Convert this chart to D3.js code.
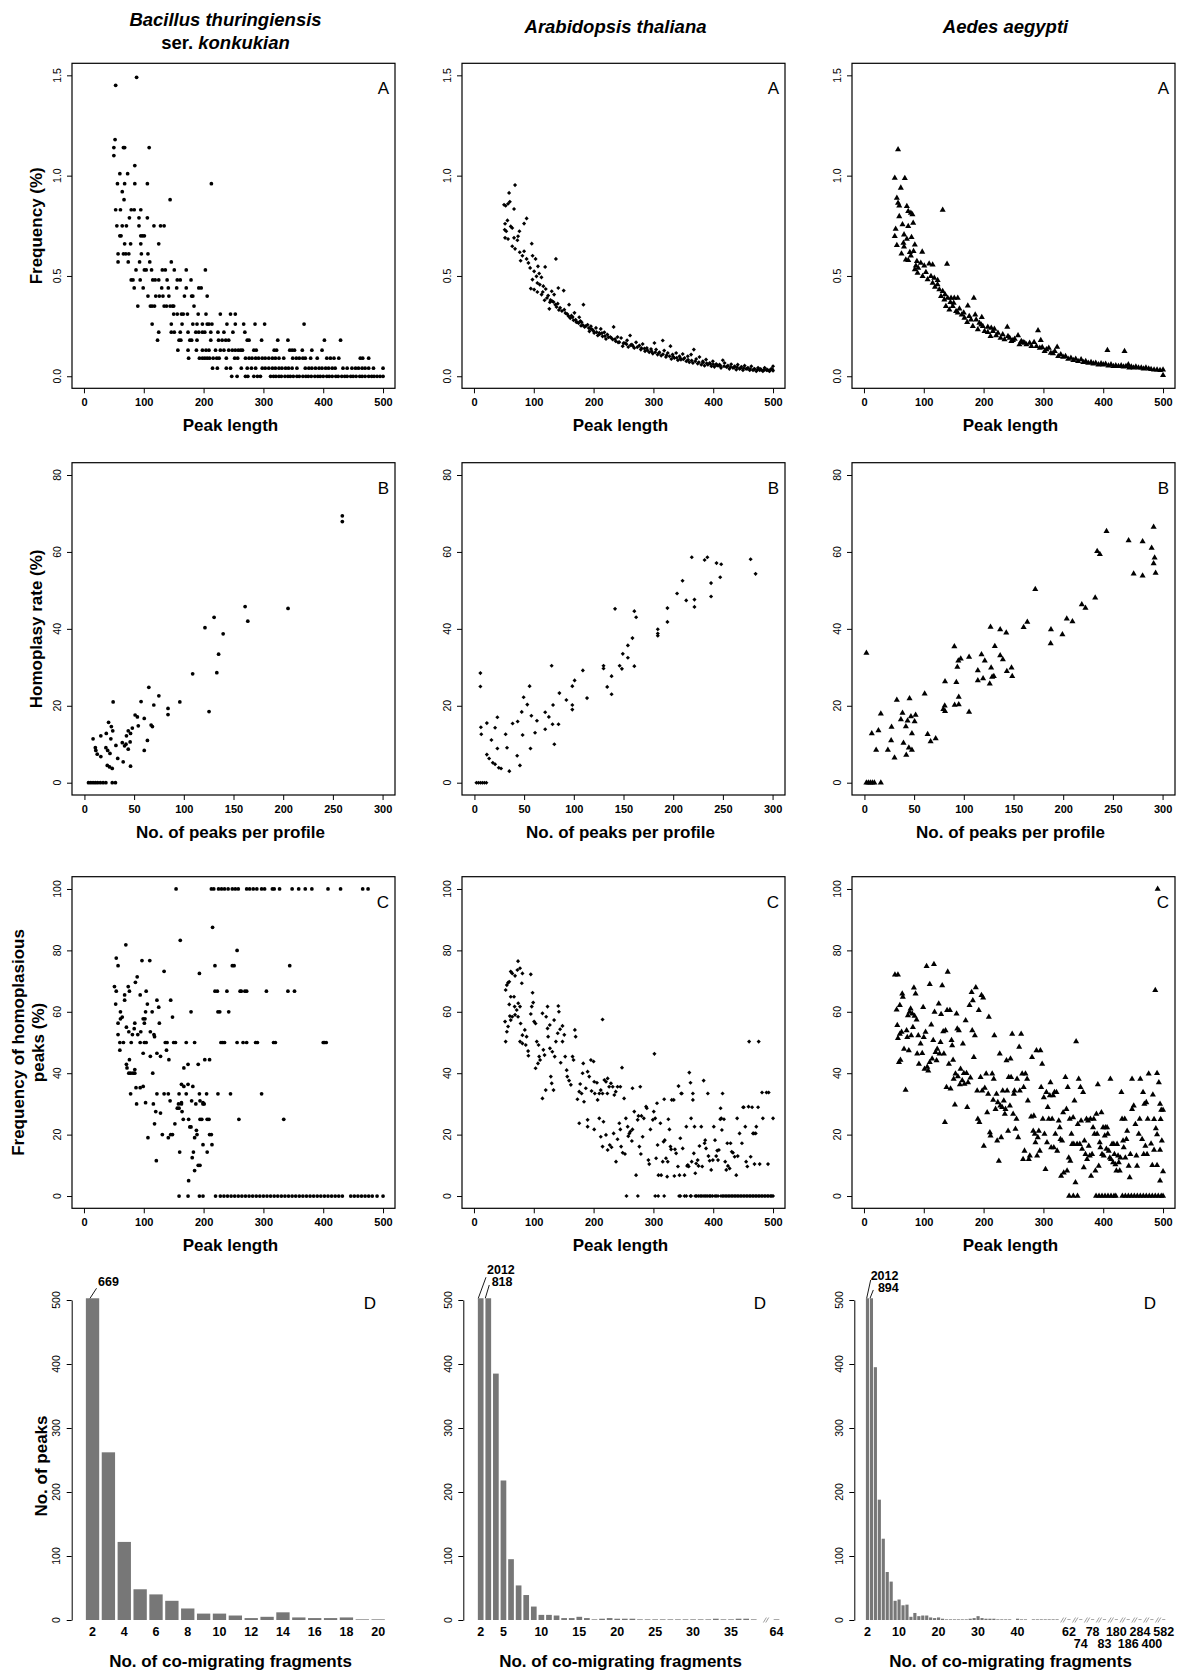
<!DOCTYPE html>
<html>
<head>
<meta charset="utf-8">
<title>Peak length, homoplasy and co-migration</title>
<script src="https://d3js.org/d3.v7.min.js"></script>
<style>
  body { margin: 0; background: #fff; }
  svg text { font-family: "Liberation Sans", Arial, sans-serif; fill: #000; }
</style>
</head>
<body>
<svg id="fig" width="1200" height="1675"></svg>
<script>
// ---------- data ----------
const lengthTicks = [0, 100, 200, 300, 400, 500];
const peakTicks = [0, 50, 100, 150, 200, 250, 300];
const freqTicks = [0, 0.5, 1.0, 1.5];
const rateTicks = [0, 20, 40, 60, 80];
const homoTicks = [0, 20, 40, 60, 80, 100];
const countTicks = [0, 100, 200, 300, 400, 500];

// A: peak length vs frequency (%) - B. thuringiensis, grouped by (quantised) frequency level
const btFreqRows = [
  [1.49, [88]], [1.45, [53]], [1.18, [52]], [1.14, [50, 66, 68, 109]], [1.10, [50]], [1.05, [85]],
  [1.01, [60, 73]], [0.96, [56, 68, 85, 106, 213]], [0.92, [64]], [0.88, [67, 144]],
  [0.83, [53, 61, 79, 84, 95]], [0.79, [76, 92, 106]], [0.75, [55, 64, 71, 92, 117, 128, 134]],
  [0.70, [60, 62, 95, 98, 101]], [0.66, [68, 78, 95, 125]], [0.61, [57, 66, 70, 75, 96, 107]],
  [0.57, [57, 74, 93, 110, 146]], [0.53, [87, 101, 104, 113, 131, 136, 151, 171, 203]],
  [0.48, [79, 82, 94, 115, 119, 125, 139, 156, 161, 179]],
  [0.44, [84, 99, 130, 141, 155, 171, 192, 196]],
  [0.40, [107, 120, 126, 132, 142, 168, 180, 182, 206]],
  [0.35, [90, 111, 114, 118, 134, 138, 144, 148, 150, 184]],
  [0.31, [150, 156, 163, 166, 173, 191, 204, 228, 245, 253]],
  [0.26, [114, 146, 164, 182, 189, 198, 206, 209, 214, 239, 253, 267, 286, 302, 368]],
  [0.22, [125, 146, 151, 161, 174, 187, 192, 198, 202, 212, 224, 234, 249, 269]],
  [0.18, [123, 159, 162, 177, 180, 189, 212, 225, 231, 237, 242, 273, 276, 297, 324, 341, 402, 429]],
  [0.13, [157, 174, 188, 198, 204, 209, 220, 228, 234, 242, 248, 253, 258, 262, 265, 284, 288, 318, 322, 344, 348, 352, 365, 381, 398]],
  [0.09, [175, 193, 198, 202, 206, 210, 216, 222, 226, 238, 252, 257, 270, 276, 281, 287, 292, 298, 303, 309, 315, 320, 326, 334, 349, 355, 360, 366, 370, 379, 390, 406, 412, 418, 426, 462, 466, 476]],
  [0.04, [215, 223, 238, 245, 263, 273, 280, 287, 298, 303, 309, 315, 320, 326, 331, 337, 342, 348, 356, 370, 376, 381, 387, 393, 398, 404, 409, 415, 420, 433, 440, 448, 454, 459, 465, 470, 476, 484, 500]],
  [0, [247, 256, 270, 274, 284, 290, 295, 312, 317, 321, 326, 330, 336, 341, 345, 350, 356, 360, 366, 371, 375, 380, 386, 391, 395, 400, 406, 410, 415, 421, 425, 431, 436, 440, 446, 450, 455, 461, 465, 470, 476, 481, 485, 490, 495, 500]]
];

// A: A. thaliana
const atFreq = [
  [50.3,0.855],[53,0.85],[57,0.86],[60,0.87],[58.7,0.914],[68.7,0.953],[67,0.834],[52,0.76],[56,0.777],[51.4,0.73],
  [54,0.723],[61.5,0.747],[64,0.739],[52,0.69],[57,0.684],[67,0.69],[73.7,0.698],[76,0.723],[83.8,0.761],[88,0.787],
  [64,0.648],[68.7,0.635],[72.6,0.678],[76.5,0.618],[81,0.601],[83.8,0.623],[78,0.576],[88,0.585],[91,0.565],[96.6,0.661],
  [98,0.601],[103,0.585],[107,0.548],[119,0.545],[93.9,0.54],[100.6,0.523],[104.5,0.498],[109,0.512],[112.8,0.493],[97.8,0.482],
  [106,0.465],[110,0.457],[95,0.437],[100.6,0.432],[106,0.42],[116,0.449],[120,0.435],[113,0.407],[124,0.402],[130,0.424],
  [134,0.407],[137,0.585],[141,0.44],[150,0.427],[118,0.379],[127,0.369],[126,0.336],[131,0.374],[136,0.357],[140,0.362],
  [144,0.341],[151,0.332],[159,0.357],[156,0.31],[163,0.302],[168,0.316],[183,0.357],[170,0.282],[176,0.294],[180,0.269],
  [185,0.246],[190,0.257],[195.5,0.249],[198,0.233],[204,0.241],[209.5,0.216],[215,0.199],[218,0.219],[223,0.208],[233.5,0.246],
  [228,0.196],[236,0.186],[241,0.169],[246,0.191],[252.5,0.166],[256,0.179],[261,0.203],[264,0.158],[271,0.169],[276.5,0.153],
  [282,0.161],[289,0.141],[296,0.136],[301.7,0.166],[304.5,0.133],[310,0.12],[315.6,0.178],[318,0.128],[324,0.116],[328.5,0.15],
  [332,0.108],[338,0.116],[343.6,0.1],[349,0.111],[352,0.091],[357.5,0.1],[363,0.108],[367.6,0.133],[371.5,0.086],[377,0.096],
  [382.7,0.075],[388,0.083],[394,0.066],[399.4,0.075],[405,0.061],[410.6,0.058],[416,0.08],[419,0.066],[424.6,0.053],[430,0.06],
  [435.8,0.05],[441,0.058],[447,0.047],[452.5,0.053],[458,0.042],[463.7,0.05],[469,0.037],[475,0.042],[480,0.033],[486,0.042],
  [491.6,0.03],[497,0.037],[500,0.05],[500,0.028],
  [166.5,0.279],[173,0.269],[179,0.252],[193,0.224],[201,0.216],[207,0.203],[212,0.236],[220.7,0.186],[232,0.183],[240,0.196],
  [248.6,0.15],[258,0.146],[268,0.141],[279,0.133],[286,0.125],[293,0.12],[299,0.113],[307,0.108],[313,0.103],[321,0.096],
  [330,0.086],[335,0.091],[341,0.08],[346,0.083],[355,0.075],[360,0.07],[366,0.066],[374,0.063],[380,0.058],[385.5,0.053],
  [391,0.058],[397,0.05],[402,0.047],[408,0.053],[413,0.042],[422,0.047],[427,0.037],[433,0.042],[438.5,0.033],[444,0.037],
  [449.7,0.03],[455,0.037],[461,0.03],[466.5,0.03],[472,0.025],[477.7,0.03],[483,0.025],[489,0.03],[494,0.025],
  [115,0.42],[122,0.39],[128,0.38],[133,0.37],[138,0.345],[142,0.33],[147,0.325],[153,0.315],[158,0.3],[161,0.29],
  [165,0.295],[171,0.27],[175,0.265],[178,0.275],[182,0.255],[187,0.25],[192,0.24],[196,0.235],[200,0.225],[205,0.22],
  [210,0.21],[214,0.215],[219,0.2],[225,0.195],[230,0.19],[237,0.175],[243,0.17],[250,0.165],[255,0.16],[262,0.155],
  [266,0.15],[273,0.145],[280,0.14],[285,0.138],[290,0.13],[297,0.125],[303,0.12],[309,0.115],[316,0.11],[322,0.105],
  [327,0.1],[333,0.098],[339,0.092],[345,0.09],[350,0.085],[358,0.082],[364,0.078],[370,0.075],[376,0.07],[383,0.068],
  [389,0.065],[395,0.062],[400,0.06],[406,0.055],[412,0.052],[418,0.05],[423,0.048],[429,0.046],[435,0.044],[440,0.045],
  [446,0.04],[451,0.04],[457,0.038],[462,0.036],[468,0.035],[474,0.034],[479,0.036],[485,0.032],[490,0.034],[495,0.03],[499,0.035]
];

// A: Ae. aegypti
const aaFreq = [
  [57,1.13],[51.5,0.988],[68.3,0.987],[61.6,0.939],[55,0.889],[57,0.864],[59,0.85],[71.7,0.847],[74,0.822],[78.4,0.814],
  [81,0.806],[59,0.797],[53,0.734],[64.4,0.756],[74,0.748],[82.3,0.764],[51.5,0.698],[67,0.706],[71.7,0.684],[79.5,0.693],
  [55,0.653],[66,0.664],[85,0.656],[62.7,0.611],[67,0.645],[76.7,0.618],[97.4,0.62],[70,0.581],[74,0.578],[78.4,0.601],
  [82.9,0.623],[88.5,0.573],[95,0.565],[86.8,0.551],[90.7,0.54],[85,0.532],[100.8,0.551],[109,0.561],[114.8,0.556],[131.6,0.829],
  [138.9,0.56],[89.6,0.515],[98,0.498],[103.6,0.518],[106.4,0.482],[112,0.498],[117.6,0.49],[123.2,0.478],[114.8,0.465],[118.7,0.445],
  [126,0.432],[128.8,0.399],[134.4,0.382],[140,0.39],[145.6,0.39],[151,0.39],[156.8,0.39],[137,0.349],[142.8,0.332],[148.4,0.349],
  [154,0.324],[159.6,0.336],[173.6,0.352],[183.7,0.39],[163.5,0.307],[168,0.291],[172.5,0.269],[179,0.282],[186,0.307],[187.6,0.282],
  [197,0.294],[182,0.249],[190.4,0.233],[196,0.257],[201.6,0.224],[207,0.219],[212.8,0.241],[218,0.236],[211.6,0.199],[221,0.203],
  [228.4,0.191],[239.6,0.246],[235,0.183],[240.8,0.199],[246.4,0.174],[252,0.186],[257.6,0.203],[260,0.158],[266,0.169],[271.6,0.158],
  [277,0.166],[284.4,0.169],[291,0.228],[288.4,0.15],[295.6,0.179],[298,0.145],[302,0.125],[309,0.141],[312.4,0.116],[319,0.125],
  [323,0.146],[324.8,0.1],[333,0.096],[341.5,0.086],[350,0.08],[358,0.075],[366.7,0.07],[375,0.066],[383.5,0.063],[392,0.058],
  [400,0.058],[407,0.13],[408.7,0.053],[417,0.05],[425.5,0.05],[435.6,0.125],[434,0.047],[442,0.058],[443.5,0.042],[450.7,0.042],
  [459,0.042],[467.5,0.037],[476,0.037],[480,0.035],[485,0.033],[490,0.032],[495,0.03],[500,0.033],[500,0.005],
  [123,0.457],[131.6,0.424],[135.5,0.407],[144.5,0.369],[150,0.365],[156.8,0.316],[166.8,0.316],[176,0.299],[193,0.266],[198.7,0.249],
  [207,0.246],[215.6,0.224],[224,0.216],[232,0.208],[243.6,0.191],[249,0.179],[263,0.174],[268.7,0.166],[280,0.15],[294,0.141],
  [305,0.133],[316,0.113],[329,0.108],[337,0.1],[346,0.091],[354,0.086],[363,0.083],[370.7,0.075],[379.6,0.07],[387.5,0.066],
  [396.4,0.063],[404,0.061],[413,0.058],[421,0.053],[430,0.053],[438,0.05],[447,0.047],[454.6,0.047],[463.6,0.042],[471.4,0.042]
];

// B: no. of peaks per profile vs homoplasy rate (%)
const btRate = [
  [259.5,69.4],[259.5,67.9],[161.7,45.8],[164.4,42.0],[204.9,45.3],[130.5,43.0],[121.3,40.3],[139.6,38.7],[135,33.4],[133.2,28.6],
  [108.9,28.3],[125.4,18.5],[64.8,24.8],[74.9,22.6],[96,21.0],[84.1,19.3],[84.1,17.7],[69.8,20.2],[57,21.1],[28.9,21.0],
  [51,17.6],[53.3,17.1],[60.2,16.7],[54.2,14.8],[67.1,15.0],[68.4,14.6],[24.3,15.7],[27.1,14.6],[28.5,13.5],[44.1,13.5],
  [46.4,12.8],[42.3,12.2],[48.2,14.2],[22,12.8],[16.5,12.2],[8.7,11.4],[26.6,11.4],[31.7,9.7],[38.1,10.4],[41.8,10.0],
  [46,10.6],[40.4,9.6],[44.1,8.7],[21.6,9.1],[23.4,8.4],[11,9.1],[11.5,8.4],[12.9,7.4],[16.5,6.8],[25.7,7.6],
  [33.5,6.3],[39,5.4],[46.4,4.3],[23,4.5],[25.3,4.1],[28,3.7],[63.4,11.0],[60.2,8.4],
  [4.1,0],[6.4,0],[8.7,0],[11,0],[13.3,0],[16,0],[18.8,0],[21.6,0],[28,0],[31.2,0]
];
const atRate = [
  [277.9,58.1],[282.9,54.3],[218.7,58.6],[234.4,58.6],[231.6,57.9],[243.6,57.1],[248.3,56.8],[247.3,53.4],[238.1,51.9],[238.1,48.4],
  [209.4,52.5],[203.9,49.2],[213.1,47.4],[221.4,47.6],[221.4,45.7],[194.2,45.4],[194.2,41.8],[184.5,39.9],[184.5,38.8],[184.5,38.2],
  [160.9,44.6],[162.7,43.0],[141.5,45.2],[159,37.6],[154.4,35.7],[149.3,33.5],[154.4,32.5],[160.9,30.3],[146.1,30.4],[148.4,29.6],
  [129.9,30.4],[129.9,29.7],[109.1,29.2],[100.8,26.6],[98.5,25.1],[85.5,23.3],[92.5,21.5],[113.3,22.0],[133.6,24.9],[138,27.7],
  [138,23.0],[77.7,30.4],[79.1,20.2],[78.6,15.2],[84.6,15.2],[80.4,10.0],[71.2,18.3],[74.9,17.1],[71.2,13.9],[62.9,16.1],
  [61,13.0],[57.3,17.4],[55.5,25.1],[53.2,20.3],[49.5,22.2],[47.6,18.4],[48.5,12.4],[56.4,8.9],[43.5,15.9],[38.4,15.4],
  [31.4,12.6],[32.8,9.1],[45.8,4.5],[43,7.0],[35.1,3.0],[23.1,17.0],[23.1,8.9],[20.8,14.3],[17.1,11.1],[12.5,15.5],
  [6.5,14.4],[6.9,12.6],[6,25.0],[6,28.5],[12.5,7.3],[14.8,6.3],[18.5,5.2],[20.8,4.8],[24.5,3.9],[26.8,3.7],
  [98.5,19.0],[98.5,20.2],
  [2,0],[4,0],[6,0],[8,0],[10,0],[12,0]
];
const aaRate = [
  [2,33.7],[243.6,65.4],[265.8,63.0],[279.9,62.7],[234.2,60.2],[236.9,59.4],[270.9,54.3],[279.9,53.8],[171.9,50.3],[232.2,48.1],
  [218.7,46.3],[222.4,45.4],[203.6,42.6],[209.3,41.9],[163.9,41.8],[160.2,40.4],[187.7,39.8],[199.2,38.5],[187.4,36.2],[126.9,40.5],
  [136.6,39.8],[142.7,39.0],[131.2,35.5],[136.6,33.1],[139.3,32.0],[117.8,33.3],[121.1,31.7],[148,29.9],[148.7,27.7],[143.3,29.0],
  [127.5,29.9],[130.2,27.7],[128.5,27.5],[126.1,25.7],[114.1,29.2],[114.1,26.6],[119.4,27.1],[105.3,32.7],[94.5,31.7],[96.9,32.2],
  [90.5,35.4],[93.5,30.1],[92.5,26.1],[81.1,26.3],[80.8,20.0],[81.1,18.6],[79.4,19.1],[90.8,20.2],[94.9,20.3],[94.9,22.3],
  [105.3,18.4],[60.6,23.1],[63.6,12.6],[66.6,10.7],[71.7,11.5],[45.4,21.9],[38.3,18.1],[32.6,21.5],[16.5,17.9],[7.4,12.8],
  [14.1,13.6],[11.8,8.5],[23.6,8.5],[27.3,14.5],[26.9,11.0],[30.3,6.5],[36.7,16.4],[41.7,14.6],[39.3,10.3],[43.4,16.1],
  [42.1,7.2],[44.7,9.1],[47.8,8.5],[47.8,12.8],[46.8,17.2],[50.5,15.9],[51.5,17.6],
  [291,66.5],[289,61],[292,58.5],[291,57],[293,54.5],
  [2,0],[4,0],[6,0],[8,0],[10,0],[16.5,0]
];

// C: peak length vs frequency of homoplasious peaks (%)
const btHomoRows = [
  [100, [154, 213, 217, 225, 230, 235, 241, 248, 253, 258, 272, 277, 283, 289, 297, 302, 315, 318, 327, 348, 359, 370, 381, 408, 429, 466, 475]],
  [87.5, [215]], [83.3, [161]], [81.8, [70]], [80, [256]], [77.5, [54]], [76.7, [97, 110]],
  [75, [57, 219, 248, 251, 344]], [73.2, [134]], [72.5, [193]], [71.4, [89]], [69.6, [86]], [68.2, [51, 74]],
  [66.7, [54, 76, 104, 219, 223, 239, 261, 263, 269, 272, 305, 341, 352]], [65.5, [68, 94]],
  [63.8, [68, 122, 145]], [62.5, [53, 106]], [61.5, [125]], [60, [61, 103, 114, 179, 224, 227, 242]],
  [58.3, [64, 148]], [57.7, [61, 99, 102]], [56.3, [57, 85, 101, 126]], [55, [71]], [54.5, [84]],
  [53.5, [75, 95, 111]], [52.6, [57, 81, 90, 117]], [51.9, [118]],
  [50, [60, 66, 79, 94, 101, 104, 136, 139, 150, 153, 171, 185, 229, 232, 235, 256, 266, 272, 287, 290, 317, 320, 400, 402, 405]],
  [47.5, [60, 138]], [46.5, [99, 122]], [45.5, [111, 128]], [44.4, [76, 142, 202, 210]], [42.9, [71, 174, 191]],
  [41.7, [72, 167]], [41.2, [85]], [40, [75, 78, 82, 85, 115]], [36.4, [163, 174]], [35.7, [99, 167, 182]],
  [35.3, [87, 94]], [33.3, [78, 122, 134, 141, 159, 171, 193, 205, 224, 245, 297]], [31, [144, 180, 194]],
  [30.4, [103, 163, 199]], [30, [88, 116, 158, 163, 187, 199, 201]], [28.6, [156, 159]], [27.5, [120, 164]],
  [27, [128]], [25, [166, 175, 194, 197, 206, 209, 259, 334]], [23.5, [118, 152]], [22.5, [177, 179]],
  [21.4, [188]], [20, [131, 145, 148, 189, 210, 213]], [19, [107, 141, 185]], [16.7, [199, 214]],
  [14.3, [160, 183, 206]], [12.5, [181]], [11.5, [121]], [10, [191, 194]], [8.3, [185]], [5, [175]],
  [0, [159, 174, 193, 199, 220, 228, 234, 240, 246, 252, 258, 264, 270, 276, 282, 288, 294, 300, 306, 312, 318, 324, 330, 336, 342, 348, 354, 360, 366, 372, 378, 384, 390, 396, 402, 408, 414, 420, 426, 432, 446, 452, 458, 464, 470, 476, 482, 490, 500]]
];
const atHomo = [
  [53,50.3],[52,56.8],[55,68.7],[57,69.5],[59,69.8],[53,67.1],[57,55.2],[55,53.5],[59,62.4],[61.5,64.9],
  [61.5,73.1],[64,72.5],[67,64.9],[68.7,71.7],[72.6,73.6],[73.7,76.5],[77,74.2],[81,72.5],[80,69.3],[68,61.7],
  [71.5,60.6],[74,62.8],[77,61.7],[60,58.6],[64,58.4],[68.7,59],[73.7,58.4],[61.5,57.3],[78,56.2],[81,52.4],
  [77,50.3],[81,49.7],[86.6,49.2],[90.5,47.2],[91,45.7],[85,54.1],[88,51.9],[95,72.2],[98,66.2],[96.6,61.7],
  [99,63],[95,59.3],[100.6,56.8],[103,56.2],[105,50.3],[108,49.2],[103,41.6],[107,43.2],[110.6,44.3],[109,45.4],
  [114.5,59.5],[116,47.6],[118,45.9],[120.7,58.4],[123,61.7],[123,54.6],[124,51.9],[126.8,55.7],[127,48.1],[128.5,38.9],
  [130,36.7],[133,34.5],[120,34.5],[114.5,31.8],[131,47],[134,57.3],[135,45.4],[137,50.3],[140,53],[141,61.9],
  [142,60],[144,54.3],[145,43.4],[148,55.4],[148,50.3],[151,52.5],[152.5,45.4],[155,41],[156,38.9],[159,37.6],
  [162,36.2],[164.8,45.4],[166.5,44.3],[168.7,54.1],[170,51.9],[173,31.5],[176,34],[177.6,36.5],[180,33.4],[181.6,40],
  [182.7,43.2],[184,30.7],[187,35.1],[176,23.7],[190,40.5],[192.7,38.9],[195.5,44.3],[196.6,34.2],[200,43.8],[201,37.2],
  [202,33.4],[205.6,36.9],[206.7,31.3],[209.5,33.4],[212,34.5],[215,57.5],[215,33.4],[218,37.8],[220.7,37.2],[223,33.4],
  [223.5,38.3],[226,35.6],[229,36.7],[232,35.6],[234.6,32.9],[237,34],[240,35.6],[244.7,35.6],[247.5,41.8],[251,31.8],
  [190,22.6],[190,24.8],[201,21.7],[209.5,25.3],[212,19.3],[215,16.1],[216.5,24.2],[220.7,19.9],[223.5,15],[227,16.6],
  [230,15.9],[233.5,20.4],[237.5,11.2],[240,18.5],[243,23.7],[244.7,21.7],[246,16.1],[248.6,14.1],[252.5,13.7],[254,25.3],
  [257,22.6],[258,19.5],[259.8,20.4],[261.5,21],[264,17.9],[265,21.7],[265,35.1],[268,27.5],[271,6.8],[273.7,24.8],
  [275,26.1],[276.5,16.1],[278,35.6],[279,13.7],[280,26.1],[282,19.3],[284,25.3],[287.7,29.1],[289,28.6],[291.6,11.7],
  [293,10.4],[295,21.7],[299,24.8],[300.6,27.5],[301.7,46.3],[303,25.3],[304.5,12.3],[306,30.2],[307,16.6],[308.4,6.8],
  [311.7,23.7],[313,6.8],[315.6,11.2],[317,17.7],[318,31.5],[319,18.2],[321,12.3],[323,6.3],[324,11.2],[325,25],
  [326.8,21.7],[328.5,16.1],[329.6,15.2],[330.7,31.3],[334,31.3],[335,6.5],[336,15.2],[338,13.9],[341,9.6],[342,35.8],
  [343.6,6.8],[345,18.8],[346.4,33.4],[347.5,33.4],[349,15.5],[352,6.8],[355,22.6],[356.4,9.8],[357.5,10.1],[359,9.6],
  [360,40.2],[362,36.9],[363,25.3],[364,11.2],[366,33.4],[366,31.3],[367.6,13.9],[368.7,22.6],[370,7.4],[371.5,10.6],
  [374,11.7],[375.4,9.8],[377,16.3],[380,22.6],[381.6,9.6],[384,37.6],[385.5,17.2],[386.6,18.2],[388,15.5],[391,33.4],
  [392,13],[394,11.5],[396.6,8.5],[399.4,11.7],[401,22.6],[403,18.2],[405,13],[406.7,14.8],[408,11.7],[409.5,15],
  [411.7,25],[412.3,28.6],[413.4,25.3],[414.5,21.5],[415.6,33.4],[418,25],[420,11.2],[421.8,8.5],[423.5,17.2],[424.6,9.8],
  [427.4,9],[429,17.2],[431,14.4],[433,14.1],[435.8,12.8],[438.5,6.8],[440,25.3],[441,13],[444,20.4],[448,17.2],
  [450,28.9],[451,28.9],[453.6,22.6],[455,11.2],[457,9.6],[459,29.1],[460,50.3],[462.6,12.8],[465,28.9],[466.5,20.4],
  [468,20.4],[469,10.4],[471,20.4],[472,22.6],[475,28.9],[476,50.3],[477.7,10.4],[481.6,33.7],[483,25.3],[489,33.7],
  [491.6,10.4],[492.7,33.7],[500,25.3]
];
const atHomoZero = [255, 274, 303, 308, 318, 343, 345, 352, 355, 362, 363, 370, 372, 375, 378, 380, 383, 386, 388, 391, 394, 396, 399, 403, 405, 408, 413, 416, 418, 421, 423, 426, 428, 431, 433, 436, 438, 441, 443, 446, 448, 451, 453, 456, 458, 461, 463, 466, 468, 471, 473, 476, 478, 481, 483, 486, 488, 491, 493, 496, 498, 500];
const aaHomo = [
  [51.8,72.1],[56.8,72.1],[54.6,60.7],[60,62.1],[55.7,55.6],[56.8,51.4],[60,52.8],[62.9,53.4],[64,65.9],[65,64.8],
  [61,44.3],[58.5,43.6],[67,47.9],[69.6,34.5],[71.3,53.9],[72.4,51.7],[73.5,58.8],[75,47.4],[76.3,59.9],[78,61],
  [79,52.3],[80.7,59.4],[81.8,55],[83.5,67.8],[84.6,58.6],[86.3,65.9],[88,57.4],[89,46.3],[90.8,52.3],[91.9,43],
  [94.7,49.6],[97.4,46.5],[99,61.5],[100,51.7],[101.3,41.4],[103,53.4],[104.7,74.8],[105.8,42],[107.5,40.8],[110,69],
  [110,43.6],[112.5,55.8],[114,44.7],[115.8,50.7],[117,75.5],[118,59.9],[119.7,46.8],[121.4,44.1],[122.5,47.9],[125,62.6],
  [126.4,46.3],[128,50.1],[129,59.2],[130.8,68.6],[132.5,53.6],[133.6,46.3],[135.3,24],[136.4,53.9],[138,35.4],[139,60.5],
  [140,73],[142,43],[143.7,60.5],[144.8,34.9],[146.4,50.7],[147.5,49],[149,44.3],[150,38.1],[152,29.7],[153,39.8],
  [154.8,59.4],[156,54.5],[157,38.9],[158.7,53.9],[160.4,36.3],[161.5,41.4],[164.3,37.6],[165.4,49.6],[167,40],[168,36.5],
  [170,57.2],[171.5,40],[172.6,28.9],[174,37],[176.5,62.1],[178,38.5],[180,66.4],[181,53.9],[182,63.7],[183.7,45.2],
  [185.4,52.3],[187,67.9],[189.3,34.3],[190.4,25.1],[192,60.5],[193,24],[195,38.7],[196.5,65.4],[197.7,34.3],[199.3,64.6],
  [200.4,16.3],[202,35.2],[204.3,39.8],[206,27.2],[207.7,33.2],[208.8,58.3],[210.5,20.7],[211.6,19.6],[214.4,39.8],[216,31.3],
  [217,38.1],[218,52.3],[220,28.3],[221.6,33.2],[222.7,18],[223.8,30.5],[225.5,11.4],[227,46.3],[228,29.4],[229.4,19.1],
  [231,28.9],[232,34.3],[233.8,31],[235.5,26.7],[236.6,28.3],[238.3,44.1],[239.4,34.3],[241,21.2],[242,38.7],[244,29.4],
  [245,44.7],[246,38.7],[247.8,52.8],[249.4,26.7],[250.6,33.2],[251.7,34.3],[253.3,21.8],[255,25.1],[256,38.1],[257.8,19.1],
  [259.5,48.5],[260.6,34.3],[262.8,52.8],[264.5,39.8],[266,12],[267,35.4],[268.4,14.7],[270,39.8],[272.8,38.1],[274,31],
  [275.6,12],[277.3,13.1],[279.5,25.8],[281,45.2],[283,21.2],[284,26.1],[285.6,20.2],[286.7,17.4],[288.4,47.4],[289.5,13.1],
  [290.6,19.1],[292.3,21.2],[294,14.7],[295,47.4],[296.2,35.4],[297.9,43],[299,25.1],[300.7,32.1],[301.8,20.2],[303.5,8.7],
  [305,33.8],[306,17.4],[307.3,28.9],[309,25.1],[310.7,32.7],[311.8,37],[312.9,15.8],[314.6,25.1],[316.3,32.7],[317.4,15.8],
  [318.5,33.8],[320,20.2],[321.8,33.8],[323,14.7],[325.7,24.5],[327.4,22.3],[328.5,18.5],[329.6,6.5],[331.3,18],[333,27.2],
  [334,7.6],[336.8,38.7],[338.5,28.3],[339.6,8.2],[340.7,35.4],[342.4,12.5],[344,25.1],[345,11.4],[346.9,20.2],[348,16.9],
  [349.7,25.6],[350.8,16.9],[351.9,31],[353.6,4.4],[354.7,50.3],[356.3,16.9],[357.5,23.4],[359,38.1],[360.8,16.9],[362,35.4],
  [363,24.5],[364.7,15.3],[366.4,33.8],[367.5,9.3],[368.6,18],[370.3,13.6],[372,25.1],[373,12],[374.7,24.5],[375.8,16.3],
  [377.5,13.1],[378.6,25.1],[379.7,6.5],[381.4,13.6],[383,22.3],[384.2,25.1],[385.3,20.2],[387,8.2],[388.6,26.7],[389.8,20.2],
  [391,36.3],[392.5,9.8],[394.2,17.4],[395.3,15.8],[397,27.2],[398,13.6],[399.8,22.3],[400.9,13.1],[402.6,19.6],[403.7,22.3],
  [405.3,15.3],[406.5,22.3],[407.6,20.2],[409.2,14.7],[411,12.5],[412,38.1],[413,12],[414.8,16.9],[416.5,10.9],[417.6,16.9],
  [418.7,13.6],[420.4,10.3],[422,8.2],[423.2,16.9],[424.8,13.1],[426,10.9],[427.6,8.2],[428.7,12.5],[430.4,33.8],[431.5,25.1],
  [433.2,18],[434.3,15.8],[436,25.1],[437,12.5],[438.8,18.5],[440,21.2],[442.6,9.8],[444.3,6],[445.4,13.6],[448.2,38.1],
  [448.2,28.3],[451,29.4],[453.8,23.4],[455.5,13.1],[456.6,9.8],[459.4,20.2],[461,25.1],[462,38.1],[465,18.5],[466.6,33.8],
  [467.7,13.6],[468.8,30],[470.5,16.3],[472,30.5],[473.3,13.6],[474.4,25.1],[476,39.8],
  [487,67],[491,100],[490,40],[493,37],[495,30],[497,28],[500,28],[485,25],[490,20],[495,15],
  [490,10],[500,8],[495,5],[485,15],[480,17],[483,33],[488,22],[498,18],[482,10],[496,25]
];
const aaHomoZero = [343, 350, 357, 388, 393, 398, 403, 408, 413, 418, 421, 432, 437, 442, 447, 452, 457, 462, 467, 472, 477, 482, 487, 492, 497, 500];

// D: no. of co-migrating fragments vs no. of peaks
const btFrag = [2, 3, 4, 5, 6, 7, 8, 9, 10, 11, 12, 13, 14, 15, 16, 17, 18, 19, 20];
const btCount = [669, 262, 122, 48, 40, 30, 18, 10, 10, 7, 3, 5, 12, 4, 3, 3, 4, 1, 1];
const btFragLabels = [2, 4, 6, 8, 10, 12, 14, 16, 18, 20];

const atFrag = [2, 3, 4, 5, 6, 7, 8, 9, 10, 11, 12, 13, 14, 15, 16, 17, 18, 19, 20, 21, 22, 23, 24, 25, 26, 27, 28, 29, 30, 31, 32, 33, 34, 35, 36, 37, 38, 64];
const atCount = [2012, 818, 385, 218, 95, 54, 39, 21, 8, 8, 7, 3, 3, 5, 3, 1, 2, 3, 2, 2, 2, 1, 1, 1, 1, 1, 1, 1, 1, 1, 1, 2, 1, 1, 2, 2, 1, 1];
const atFragLabels = [2, 5, 10, 15, 20, 25, 30, 35, 64];

const aaFrag = [2, 3, 4, 5, 6, 7, 8, 9, 10, 11, 12, 13, 14, 15, 16, 17, 18, 19, 20, 21, 22, 23, 24, 25, 26, 27, 28, 29, 30, 31, 32, 33, 34, 35, 36, 37, 38, 39, 40, 41, 42, 43, 44, 45, 46, 47, 48, 49, 50, 62, 74, 78, 83, 180, 186, 284, 400, 582];
const aaCount = [2012, 894, 395, 188, 127, 75, 60, 30, 32, 23, 24, 5, 11, 6, 7, 7, 4, 3, 4, 2, 1, 1, 1, 1, 1, 1, 2, 3, 6, 3, 2, 2, 2, 1, 1, 1, 1, 0, 2, 1, 1, 0, 1, 1, 1, 1, 1, 1, 1, 1, 1, 1, 1, 1, 1, 1, 1, 1];
const aaFragLabels = [2, 10, 20, 30, 40, 62, 78, 180, 284, 582];
const aaFragLabelsLow = [74, 83, 186, 400];

const speciesTitles = ["Bacillus thuringiensis", "Arabidopsis thaliana", "Aedes aegypti"];

// ---------- layout ----------
const svg = d3.select("#fig");
svg.append("rect").attr("width", 1200).attr("height", 1675).attr("fill", "#fff");

const colL = [72, 462, 852];
const boxW = 323;
const rowGeo = [
  { top: 63.3, bottom: 388.3, xDom: [-20, 520], yDom: [-0.06, 1.56] },
  { top: 462.7, bottom: 795, xDom: [-12.5, 312.5], yDom: [-3.2, 83.2] },
  { top: 876.7, bottom: 1208.3, xDom: [-20, 520], yDom: [-4, 104] }
];
const marks = [
  { type: d3.symbolCircle, size: 11, rot: 0 },
  { type: d3.symbolSquare, size: 8.5, rot: 45 },
  { type: d3.symbolTriangle, size: 16, rot: 0 }
];
const fromRows = rows => rows.flatMap(([yv, xs]) => xs.map(xv => [xv, yv]));

// titles
const titleX = colL.map(l => l + boxW / 2 - 8);
svg.append("text").attr("x", titleX[0]).attr("y", 26).attr("text-anchor", "middle")
  .attr("font-size", 18.5).attr("font-weight", "bold").attr("font-style", "italic").text(speciesTitles[0]);
const t2 = svg.append("text").attr("x", titleX[0]).attr("y", 49).attr("text-anchor", "middle")
  .attr("font-size", 18.5).attr("font-weight", "bold");
t2.append("tspan").text("ser. ");
t2.append("tspan").attr("font-style", "italic").text("konkukian");
[1, 2].forEach(c => {
  svg.append("text").attr("x", titleX[c]).attr("y", 33).attr("text-anchor", "middle")
    .attr("font-size", 18.5).attr("font-weight", "bold").attr("font-style", "italic").text(speciesTitles[c]);
});

function scatterPanel(ri, ci, pts, xTicks, yTicks, yFmt, letter, xTitle) {
  const geo = rowGeo[ri], L = colL[ci];
  const x = d3.scaleLinear().domain(geo.xDom).range([L, L + boxW]);
  const y = d3.scaleLinear().domain(geo.yDom).range([geo.bottom, geo.top]);
  const g = svg.append("g");

  const m = marks[ci];
  const sym = d3.symbol(m.type, m.size);
  g.selectAll("path.pt").data(pts).join("path")
    .attr("d", sym)
    .attr("transform", d => `translate(${x(d[0])},${y(d[1])}) rotate(${m.rot})`)
    .attr("fill", "#000");

  // x axis
  const gx = g.append("g").attr("transform", `translate(0,${geo.bottom})`)
    .call(d3.axisBottom(x).tickValues(xTicks).tickSize(5).tickPadding(5));
  gx.select(".domain").remove();
  gx.selectAll("line").attr("stroke", "#000");
  gx.selectAll("text").attr("font-size", 11).attr("font-weight", "bold").attr("font-family", "Liberation Sans, Arial, sans-serif");

  // y axis
  const gy = g.append("g").attr("transform", `translate(${L},0)`)
    .call(d3.axisLeft(y).tickValues(yTicks).tickSize(5).tickFormat(""));
  gy.select(".domain").remove();
  gy.selectAll("line").attr("stroke", "#000");
  g.selectAll("text.ylab").data(yTicks).join("text")
    .attr("class", "ylab")
    .attr("transform", d => `translate(${L - 11.5},${y(d)}) rotate(-90)`)
    .attr("text-anchor", "middle").attr("font-size", 10.5).text(yFmt);

  // box
  g.append("rect").attr("x", L).attr("y", geo.top).attr("width", boxW).attr("height", geo.bottom - geo.top)
    .attr("fill", "none").attr("stroke", "#000").attr("stroke-width", 1.2);

  g.append("text").attr("x", L + boxW - 6).attr("y", geo.top + 31).attr("text-anchor", "end")
    .attr("font-size", 17).text(letter);
  g.append("text").attr("x", L + boxW / 2 - 3).attr("y", geo.bottom + 43).attr("text-anchor", "middle")
    .attr("font-size", 17).attr("font-weight", "bold").text(xTitle);
}

const fmt1 = d3.format(".1f");
const fmt0 = d3.format("d");
const freqSets = [fromRows(btFreqRows), atFreq, aaFreq];
const rateSets = [btRate, atRate, aaRate];
const homoSets = [
  fromRows(btHomoRows),
  atHomo.concat(atHomoZero.map(v => [v, 0])),
  aaHomo.concat(aaHomoZero.map(v => [v, 0]))
];
[0, 1, 2].forEach(c => {
  scatterPanel(0, c, freqSets[c], lengthTicks, freqTicks, fmt1, "A", "Peak length");
  scatterPanel(1, c, rateSets[c], peakTicks, rateTicks, fmt0, "B", "No. of peaks per profile");
  scatterPanel(2, c, homoSets[c], lengthTicks, homoTicks, fmt0, "C", "Peak length");
});

// y axis titles (left column)
function yTitle(lines, cy, xs) {
  lines.forEach((s, i) => {
    svg.append("text").attr("transform", `translate(${xs[i]},${cy}) rotate(-90)`)
      .attr("text-anchor", "middle").attr("font-size", 17).attr("font-weight", "bold").text(s);
  });
}
yTitle(["Frequency (%)"], (rowGeo[0].top + rowGeo[0].bottom) / 2, [41.5]);
yTitle(["Homoplasy rate (%)"], (rowGeo[1].top + rowGeo[1].bottom) / 2, [41.5]);
yTitle(["Frequency of homoplasious", "peaks (%)"], (rowGeo[2].top + rowGeo[2].bottom) / 2, [23.5, 43.5]);
yTitle(["No. of peaks"], 1466, [47]);

// ---------- D: bar charts ----------
const dBase = 1620, dTop = 1300;
const yD = d3.scaleLinear().domain([0, 500]).range([dBase, dTop]);
const dAxisX = [71.7, 463.3, 854.3];
const dRange = [[84.6, 386.1], [476.9, 780.3], [865.5, 1165.7]];
const dPad = [0.16, 0.25, 0.2];

function slotsFor(bins) {
  const out = [];
  bins.forEach((b, i) => {
    if (i > 0 && b - bins[i - 1] > 1) out.push("gap" + i + "a", "gap" + i + "b");
    out.push(String(b));
  });
  return out;
}

function barPanel(ci, bins, counts, labelsHi, labelsLo, notes) {
  const slots = slotsFor(bins);
  const x = d3.scaleBand().domain(slots).range(dRange[ci])
    .paddingInner(dPad[ci]).paddingOuter(dPad[ci] / 2);
  const bw = x.bandwidth();
  const g = svg.append("g");
  const clipTop = yD(502.7);

  g.selectAll("rect.bar").data(bins.map((b, i) => [b, counts[i]]).filter(d => d[1] > 0)).join("rect")
    .attr("x", d => x(String(d[0])))
    .attr("width", bw)
    .attr("y", d => Math.max(yD(d[1]), clipTop))
    .attr("height", d => dBase - Math.max(yD(d[1]), clipTop))
    .attr("fill", "#777");

  // axis breaks between non-consecutive bins
  const breaks = slots.filter(s => s.startsWith("gap") && s.endsWith("b"));
  breaks.forEach(s => {
    const cx = x(s);
    [-1.2, 1.2].forEach(o => {
      g.append("line").attr("x1", cx + o - 1.5).attr("y1", dBase + 2.5)
        .attr("x2", cx + o + 1.5).attr("y2", dBase - 2.5)
        .attr("stroke", "#888").attr("stroke-width", 0.8);
    });
  });

  const gy = g.append("g").attr("transform", `translate(${dAxisX[ci]},0)`)
    .call(d3.axisLeft(yD).tickValues(countTicks).tickSize(5).tickSizeOuter(0).tickFormat(""));
  gy.selectAll("line, path").attr("stroke", "#000");
  g.selectAll("text.ylab").data(countTicks).join("text").attr("class", "ylab")
    .attr("transform", d => `translate(${dAxisX[ci] - 11.5},${yD(d)}) rotate(-90)`)
    .attr("text-anchor", "middle").attr("font-size", 10.5).text(d => d);

  g.selectAll("text.xlab").data(labelsHi).join("text").attr("class", "xlab")
    .attr("x", d => x(String(d)) + bw / 2).attr("y", 1636)
    .attr("text-anchor", "middle").attr("font-size", 12.5).attr("font-weight", "bold").text(d => d);
  g.selectAll("text.xlab2").data(labelsLo).join("text").attr("class", "xlab2")
    .attr("x", d => x(String(d)) + bw / 2).attr("y", 1648)
    .attr("text-anchor", "middle").attr("font-size", 12.5).attr("font-weight", "bold").text(d => d);

  // labels for truncated bars
  notes.forEach(n => {
    const cx = x(String(bins[n.i])) + bw / 2;
    g.append("line").attr("x1", cx + n.a).attr("y1", clipTop).attr("x2", cx + n.b).attr("y2", clipTop - n.h)
      .attr("stroke", "#000").attr("stroke-width", 0.9);
    g.append("text").attr("x", cx + n.tx).attr("y", clipTop - n.ty).attr("font-size", 12.5)
      .attr("font-weight", "bold").text(counts[n.i]);
  });

  g.append("text").attr("x", colL[ci] + 304).attr("y", 1309).attr("text-anchor", "end")
    .attr("font-size", 17).text("D");
  g.append("text").attr("x", colL[ci] + boxW / 2 - 3).attr("y", 1667).attr("text-anchor", "middle")
    .attr("font-size", 17).attr("font-weight", "bold").text("No. of co-migrating fragments");
}

barPanel(0, btFrag, btCount, btFragLabels, [], [{ i: 0, a: -2.5, b: 4, h: 10, tx: 5.5, ty: 12.5 }]);
barPanel(1, atFrag, atCount, atFragLabels, [], [
  { i: 0, a: -2.4, b: 5.3, h: 21, tx: 6.3, ty: 24.3 },
  { i: 1, a: -3, b: 1, h: 13.3, tx: 3.4, ty: 12.3 }
]);
barPanel(2, aaFrag, aaCount, aaFragLabels, aaFragLabelsLow, [
  { i: 0, a: -0.8, b: 3.2, h: 18.3, tx: 3.2, ty: 17.8 },
  { i: 1, a: -1.4, b: 1.9, h: 8.3, tx: 6.5, ty: 6 }
]);
</script>
</body>
</html>
